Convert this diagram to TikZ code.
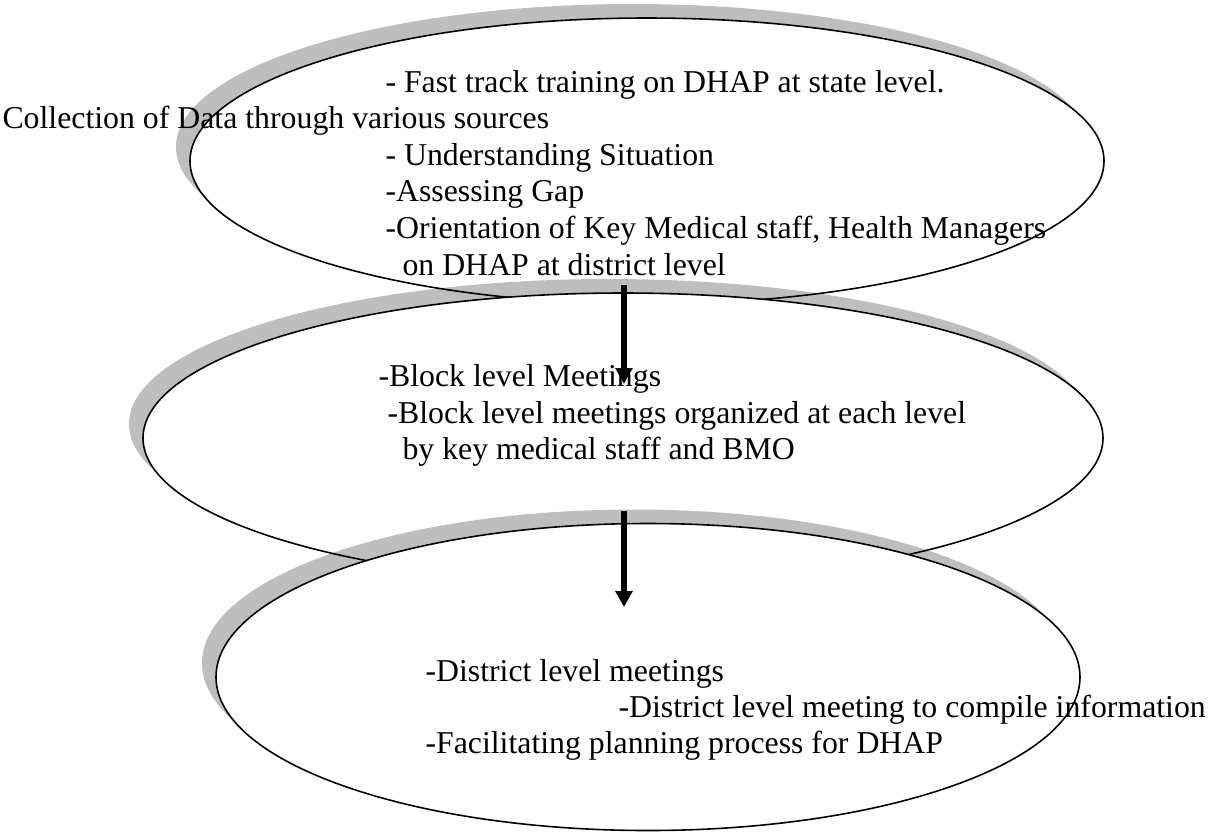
\documentclass[tikz,border=0pt]{standalone}
\usepackage{fontspec}
\setmainfont{Liberation Serif}
\usetikzlibrary{shapes.geometric,arrows.meta}
\definecolor{ShadowGrey}{HTML}{BEBEBE}
\newdimen\px
\px=0.3774pt

\begin{document}
\begin{tikzpicture}[x=\px,y=-\px,font=\fontsize{12}{13.8}\selectfont,
  stage/.style={ellipse,draw=black,line width=0.6pt,fill=white,inner sep=0},
  shade/.style={ellipse,fill=ShadowGrey,inner sep=0,blend mode=multiply},
  txt/.style={anchor=base west,inner sep=0},
  flow/.style={line width=2.3pt,-{Triangle[length=6pt,width=6.2pt]}}]
  \useasboundingbox (0,0) rectangle (1209,833);

  % Stage 1: training and situation analysis
  \node[shade,minimum width=914\px,minimum height=286\px] (sh1) at (633,147) {};
  \node[stage,minimum width=914\px,minimum height=286\px] (s1) at (647,161) {};

  % Stage 2: block level meetings
  \node[shade,minimum width=960\px,minimum height=290\px] (sh2) at (609,424) {};
  \node[stage,minimum width=960\px,minimum height=290\px] (s2) at (623,438) {};

  % Stage 3: district level meetings
  \node[shade,minimum width=864\px,minimum height=307\px] (sh3) at (634,663) {};
  \node[stage,minimum width=864\px,minimum height=307\px] (s3) at (648,677) {};

  % Texts
  \node[txt] (t1) at (385,92) {- Fast track training on DHAP at state level.};
  \node[txt] (t2) at (2,128) {Collection of Data through various sources};
  \node[txt] (t3) at (385,165) {- Understanding Situation};
  \node[txt] (t4) at (385,201) {-Assessing Gap};
  \node[txt] (t5) at (385,238) {-Orientation of Key Medical staff, Health Managers};
  \node[txt] (t6) at (402,275) {on DHAP at district level};

  \node[txt] (b1) at (378,386) {-Block level Meetings};
  \node[txt] (b2) at (387,423) {-Block level meetings organized at each level};
  \node[txt] (b3) at (402,459) {by key medical staff and BMO};

  \node[txt] (d1) at (425,681) {-District level meetings};
  \node[txt] (d2) at (618,717) {-District level meeting to compile information};
  \node[txt] (d3) at (425,753) {-Facilitating planning process for DHAP};

  % Arrows between stages
  \coordinate (a1s) at (624,285);
  \coordinate (a1e) at (624,384);
  \coordinate (a2s) at (624,511);
  \coordinate (a2e) at (624,607);
  \draw[flow] (a1s) -- (a1e);
  \draw[flow] (a2s) -- (a2e);
\end{tikzpicture}
\end{document}
